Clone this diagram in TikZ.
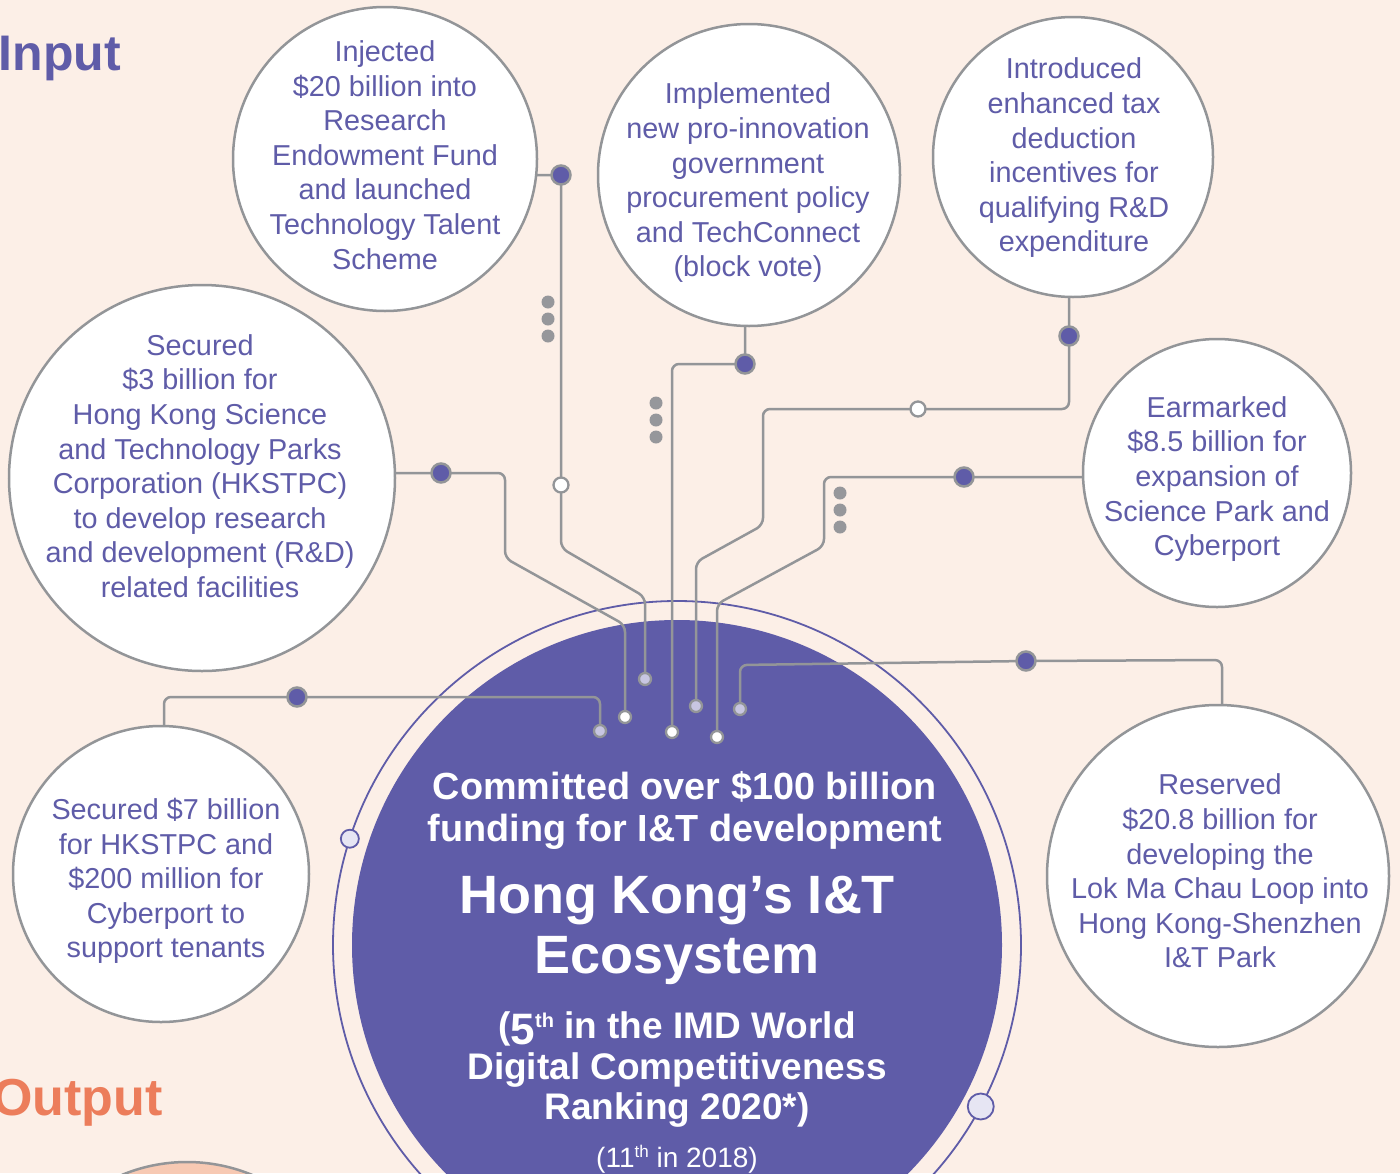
\documentclass[tikz,border=0pt]{standalone}
\usepackage{fontspec}
\setmainfont{Liberation Sans}
\definecolor{bgc}{HTML}{FCEFE7}
\definecolor{purp}{HTML}{5F5CA8}
\definecolor{lgray}{HTML}{939598}
\definecolor{dgray}{HTML}{96979B}
\definecolor{lav}{HTML}{C8C6E2}
\definecolor{ringfill}{HTML}{E6E5F3}
\definecolor{orng}{HTML}{EC7D5B}
\definecolor{peach}{HTML}{F7C9B3}
\pgfdeclarelayer{bglayer}
\pgfdeclarelayer{lines}
\pgfsetlayers{bglayer,lines,main}
\tikzset{
  bubble/.style={circle, draw=lgray, line width=2.5pt, fill=white, inner sep=0pt, outer sep=0pt},
  btext/.style={text=purp, align=center, inner sep=0pt, font=\fontsize{28.8}{34.6}\selectfont},
  conn/.style={draw=lgray, line width=2.5pt, rounded corners=7pt},
  bigdot/.style={circle, fill=purp, draw=lgray, line width=2.5pt, minimum size=19pt, inner sep=0pt},
  holdot/.style={circle, fill=white, draw=lgray, line width=2.3pt, minimum size=15pt, inner sep=0pt},
  endw/.style={circle, fill=white, draw=lgray, line width=2.3pt, minimum size=12pt, inner sep=0pt},
  endl/.style={circle, fill=lav, draw=lgray, line width=2.3pt, minimum size=12pt, inner sep=0pt},
  edot/.style={circle, fill=dgray, minimum size=13pt, inner sep=0pt},
  ringdot/.style={circle, fill=ringfill, draw=purp, line width=1.8pt, inner sep=0pt},
  ctext/.style={text=white, anchor=base, inner sep=0pt, font=\bfseries\fontsize{37}{40}\selectfont},
}
\begin{document}
\begin{tikzpicture}[x=1pt,y=-1pt]
\useasboundingbox (0,0) rectangle (1400,1173);
\clip (0,0) rectangle (1400,1173);
\begin{pgfonlayer}{bglayer}
\fill[bgc] (0,0) rectangle (1400,1173);
\node[circle, fill=purp, minimum size=650pt, inner sep=0pt, outer sep=0pt] (core) at (677,945) {};
\node[circle, draw=purp, line width=1.8pt, minimum size=688pt, inner sep=0pt, outer sep=0pt] (ring) at (677,945) {};
\end{pgfonlayer}

% headings
\node[anchor=base east, inner sep=0pt, text=purp, font=\bfseries\fontsize{50}{50}\selectfont] (inp) at (121,70) {Input};
\node[anchor=base east, inner sep=0pt, text=orng, font=\bfseries\fontsize{52}{52}\selectfont] (outp) at (163,1115) {Output};

% ring dots
\node[ringdot, minimum size=18pt] (r1) at (ring.162.8) {};
\node[ringdot, minimum size=26pt] (r2) at (ring.-28.2) {};

% bubbles
\node[bubble, minimum size=304pt] (c1) at (385,159) {};
\node[bubble, minimum size=302pt] (c2) at (749,175) {};
\node[bubble, minimum size=280pt] (c3) at (1073,157) {};
\node[bubble, minimum size=386pt] (c4) at (202,478) {};
\node[bubble, minimum size=268pt] (c5) at (1217,473) {};
\node[bubble, minimum size=296pt] (c6) at (161,874) {};
\node[bubble, minimum size=342pt] (c7) at (1218,876) {};
\node[bubble, fill=peach, minimum size=340pt] (c8) at (187,1332) {};

\node[btext] (t1) at (385,155) {Injected\\\$20 billion into\\Research\\Endowment Fund\\and launched\\Technology Talent\\Scheme};
\node[btext] (t2) at (748,183) {Implemented\\new pro-innovation\\government\\procurement policy\\and TechConnect\\(block vote)};
\node[btext] (t3) at (1074,158) {Introduced\\enhanced tax\\deduction\\incentives for\\qualifying R\&D\\expenditure};
\node[btext] (t4) at (200,466) {Secured\\\$3 billion for\\Hong Kong Science\\and Technology Parks\\Corporation (HKSTPC)\\to develop research\\and development (R\&D)\\related facilities};
\node[btext] (t5) at (1217,479) {Earmarked\\\$8.5 billion for\\expansion of\\Science Park and\\Cyberport};
\node[btext] (t6) at (166,881) {Secured \$7 billion\\for HKSTPC and\\\$200 million for\\Cyberport to\\support tenants};
\node[btext] (t7) at (1220,871) {Reserved\\\$20.8 billion for\\developing the\\Lok Ma Chau Loop into\\Hong Kong-Shenzhen\\I\&T Park};

% dots
\node[bigdot] (d1) at (561,175) {};
\node[holdot] (w1) at (561,485) {};
\node[bigdot] (d3) at (745,364) {};
\node[bigdot] (d4) at (441,473) {};
\node[bigdot] (d5) at (1069,336) {};
\node[holdot] (w2) at (918,409) {};
\node[bigdot] (d6) at (964,477) {};
\node[bigdot] (d7) at (1026,661) {};
\node[bigdot] (d8) at (297,697) {};

\node[endl] (e1) at (645,679) {};
\node[endw] (e2) at (625,717) {};
\node[endw] (e3) at (672,732) {};
\node[endl] (e4) at (696,706) {};
\node[endw] (e5) at (717,737) {};
\node[endl] (e6) at (740,709) {};
\node[endl] (e7) at (600,731) {};

% ellipsis dots
\foreach \i/\x/\y in {a1/548/302, a2/548/319, a3/548/336, b1/656/403, b2/656/420, b3/656/437, g1/840/493, g2/840/510, g3/840/527}
  \node[edot] (\i) at (\x,\y) {};

% connectors
\begin{pgfonlayer}{lines}
\draw[conn] (c1.east |- d1) -- (d1.center) -- (561,548) -- (645,597) -- (e1.center);
\draw[conn] (c4.east |- d4) -- (d4.center) -- (505,473) -- (505,558) -- (625,625) -- (e2.center);
\draw[conn] (d3 |- c2.south) -- (d3.center) -- (672,364) -- (e3.center);
\draw[conn] (d5 |- c3.south) -- (d5.center) -- (1069,409) -- (w2.center) -- (763,409) -- (763,525) -- (696,562) -- (e4.center);
\draw[conn] (c5.west |- d6) -- (d6.center) -- (824,477) -- (824,546) -- (717,604) -- (e5.center);
\draw[conn] ([xshift=4pt]c7.north) -- (1222,660) -- (d7.center) -- (740,665) -- (e6.center);
\draw[conn] ([xshift=3pt]c6.north) -- (164,697) -- (d8.center) -- (600,697) -- (e7.center);
\end{pgfonlayer}

% core text
\node[ctext, font=\bfseries\fontsize{37.8}{40}\selectfont] (k1) at (685,799) {Committed over \$100 billion};
\node[ctext, font=\bfseries\fontsize{37.8}{40}\selectfont] (k2) at (685,841) {funding for I\&T development};
\node[ctext, font=\bfseries\fontsize{54}{60}\selectfont] (k3) at (677,913) {Hong Kong’s I\&T};
\node[ctext, font=\bfseries\fontsize{54}{60}\selectfont] (k4) at (677,973) {Ecosystem};
\node[ctext] (k5) at (677,1038) {(\raisebox{-6pt}{\fontsize{44}{44}\selectfont 5}\raisebox{11pt}{\fontsize{20}{20}\selectfont th} in the IMD World};
\node[ctext] (k6) at (677,1079) {Digital Competitiveness};
\node[ctext] (k7) at (677,1119) {Ranking 2020*)};
\node[ctext, font=\fontsize{28}{30}\selectfont] (k8) at (677,1167) {(11\raisebox{10pt}{\fontsize{17}{17}\selectfont th} in 2018)};
\end{tikzpicture}
\end{document}
